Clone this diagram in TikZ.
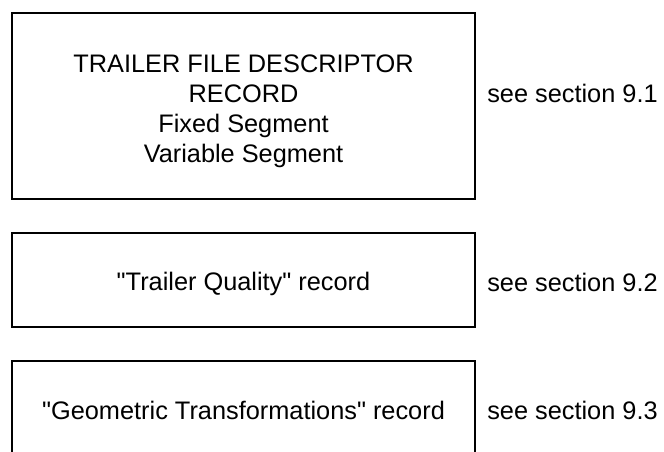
\documentclass[tikz,border=0pt]{standalone}
\usepackage{fontspec}
\setmainfont{Liberation Sans}[Ligatures=TeXOff]
\begin{document}
\begin{tikzpicture}[x=0.75pt,y=-0.75pt,
  recbox/.style={draw,line width=1.5pt,minimum width=463*0.75pt,inner sep=0pt,align=center,
    font=\fontsize{19}{22.5}\selectfont},
  seelabel/.style={anchor=west,inner sep=0pt,font=\fontsize{19}{22.5}\selectfont}]
\useasboundingbox (0,0) rectangle (664,451);
\clip (0,0) rectangle (664,451);
\node[recbox,minimum height=186*0.75pt] (b1) at (243.5,106) {\rule{0pt}{21pt}TRAILER FILE DESCRIPTOR\\RECORD\\Fixed Segment\\Variable Segment};
\node[recbox,minimum height=94*0.75pt] (b2) at (243.5,280) {\rule{0pt}{20pt}"Trailer Quality" record};
\node[recbox,minimum height=98*0.75pt] (b3) at (243.5,410) {"Geometric Transformations" record};
\node[seelabel] (s1) at (487,93) {see section 9.1};
\node[seelabel] (s2) at (487,282) {see section 9.2};
\node[seelabel] (s3) at (487,410) {see section 9.3};
\end{tikzpicture}
\end{document}
